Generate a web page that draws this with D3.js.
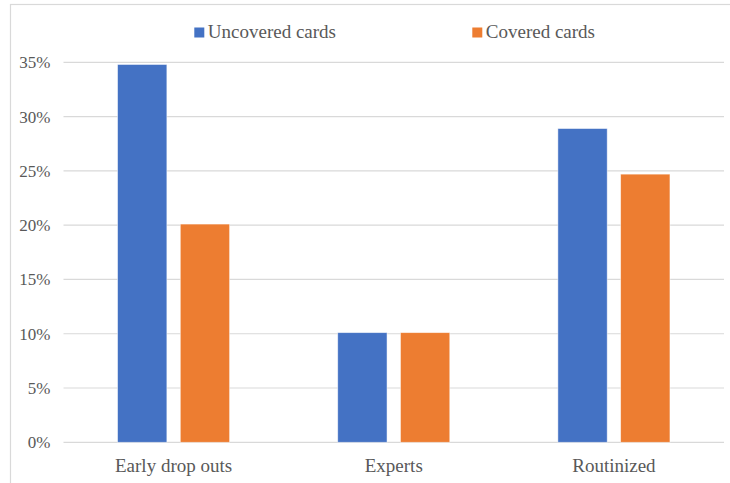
<!DOCTYPE html>
<html>
<head>
<meta charset="utf-8">
<script src="https://cdn.jsdelivr.net/npm/d3@7"></script>
<style>
  html, body { margin: 0; padding: 0; background: #fff; }
  svg { display: block; }
</style>
</head>
<body>
<svg id="chart" width="730" height="483"></svg>
<script>
// Share of participants per group, by card condition
const categories = ["Early drop outs", "Experts", "Routinized"];
const seriesNames = ["Uncovered cards", "Covered cards"];
const uncovered = [0.348, 0.101, 0.289];
const covered = [0.201, 0.101, 0.247];
const yTicks = [0, 0.05, 0.10, 0.15, 0.20, 0.25, 0.30, 0.35];
const colors = ["#4472C4", "#ED7D31"];

const svg = d3.select("#chart");
const W = 730, H = 483;
const margin = { left: 63.5, right: 6, top: 62, bottom: 41 };
const plotW = W - margin.left - margin.right;
const y0 = 442.3, yTop = 62.3;

const font = "'Liberation Serif', 'Times New Roman', serif";
const textColor = "#595959";

// chart area frame
svg.append("rect")
  .attr("x", 10.5).attr("y", 4.5)
  .attr("width", 740).attr("height", 500)
  .attr("fill", "#fff").attr("stroke", "#d9d9d9").attr("stroke-width", 1.2);

const x0 = d3.scaleBand()
  .domain(categories)
  .range([margin.left, margin.left + plotW])
  .paddingInner(0).paddingOuter(0);

const y = d3.scaleLinear().domain([0, 0.35]).range([y0, yTop]);

// gridlines
svg.append("g")
  .selectAll("line")
  .data(yTicks)
  .join("line")
  .attr("x1", margin.left).attr("x2", margin.left + plotW)
  .attr("y1", d => y(d)).attr("y2", d => y(d))
  .attr("stroke", "#d9d9d9").attr("stroke-width", 1.2);

// y axis labels
const yAxis = d3.axisLeft(y).tickValues(yTicks)
  .tickFormat(d3.format(".0%")).tickSize(0).tickPadding(13);
const gy = svg.append("g").attr("transform", `translate(${margin.left},0)`).call(yAxis);
gy.select(".domain").remove();
gy.selectAll("text")
  .attr("font-family", font).attr("font-size", 17).attr("fill", textColor);

// grouped bars: each group spans ~45% of the band
const barW = x0.bandwidth() * 0.224;
const gap = x0.bandwidth() * 0.061;
const x1 = d3.scaleBand().domain(seriesNames).range([0, barW * 2 + gap]).paddingInner(gap / (barW + gap)).paddingOuter(0);

const rows = categories.map((c, i) => ({ cat: c, vals: [uncovered[i], covered[i]] }));

const groups = svg.append("g").selectAll("g")
  .data(rows)
  .join("g")
  .attr("transform", d => `translate(${x0(d.cat) + (x0.bandwidth() - (barW * 2 + gap)) / 2},0)`);

groups.selectAll("rect")
  .data(d => d.vals.map((v, j) => ({ s: seriesNames[j], v, j })))
  .join("rect")
  .attr("x", d => x1(d.s))
  .attr("width", x1.bandwidth())
  .attr("y", d => y(d.v))
  .attr("height", d => y0 - y(d.v))
  .attr("fill", d => colors[d.j])
  .attr("stroke", "#ffffff").attr("stroke-opacity", 0.6).attr("stroke-width", 0.8);

// category labels
const xAxis = d3.axisBottom(x0).tickSize(0).tickPadding(16);
const gx = svg.append("g").attr("transform", `translate(0,${y0})`).call(xAxis);
gx.select(".domain").remove();
gx.selectAll("text")
  .attr("font-family", font).attr("font-size", 19).attr("fill", textColor);

// legend
const legendX = [194.3, 472.3];
const legend = svg.append("g").selectAll("g")
  .data(seriesNames)
  .join("g")
  .attr("transform", (d, i) => `translate(${legendX[i]},0)`);
legend.append("rect")
  .attr("x", 0).attr("y", 27.5).attr("width", 10).attr("height", 10)
  .attr("fill", (d, i) => colors[i]);
legend.append("text")
  .attr("x", 13.5).attr("y", 37.5)
  .attr("font-family", font).attr("font-size", 19).attr("fill", textColor)
  .text(d => d);
</script>
</body>
</html>
